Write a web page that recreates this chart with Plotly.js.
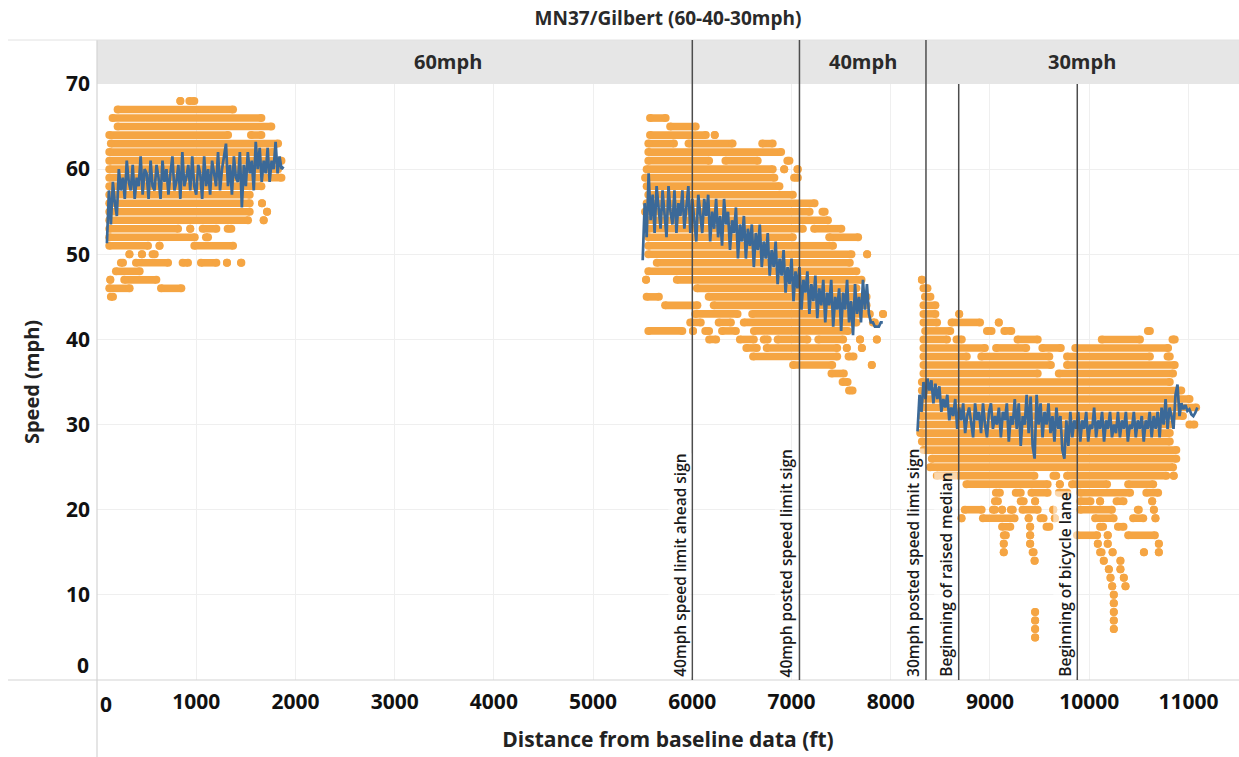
<!DOCTYPE html>
<html>
<head>
<meta charset="utf-8">
<script src="https://cdn.plot.ly/plotly-3.0.1.min.js"></script>
<style>html,body{margin:0;padding:0;background:#fff;}#chart{width:1239px;height:757px;}</style>
</head>
<body>
<div id="chart"></div>
<script>
// ---------------- DATA ----------------
const chartTitle = 'MN37/Gilbert (60-40-30mph)';
const xTitle = 'Distance from baseline data (ft)';
const yTitle = 'Speed (mph)';
const xTickVals = [0, 1000, 2000, 3000, 4000, 5000, 6000, 7000, 8000, 9000, 10000, 11000];
const yTickVals = [0, 10, 20, 30, 40, 50, 60, 70];

const zoneNames = ['60mph', '40mph', '30mph'];
const zoneStart = [0, 7080, 8355];
const zoneEnd = [7080, 8355, 11510];

const refLineDist = [6000, 7080, 8355, 8685, 9880];
const refLineLabels = ['40mph speed limit ahead sign', '40mph posted speed limit sign',
  '30mph posted speed limit sign', 'Beginning of raised median', 'Beginning of bicycle lane'];
const refLineInHeader = [true, true, true, false, false];

// Individual speed observations: for each speed row, [from, to] distance runs of dots
const rowSpeed1 = [68,67,66,65,64,63,62,61,60,59,58,57,56,55,54,53,52,51,50,49,48,47,46,45];
const rowSpans1 = [
  [840,840, 931,981], [208,1371], [157,1657], [208,1757], [124,1321, 1552,1657],
  [140,1825], [124,1774], [124,1859], [124,1825], [124,1859], [124,1657], [124,1539],
  [124,1539, 1663,1663], [124,1539, 1714,1714], [124,1522, 1680,1680],
  [124,817, 940,940, 1065,1203, 1317,1354], [124,985, 1098,1119],
  [124,514, 630,630, 981,1371], [327,327, 453,453, 560,582],
  [241,262, 393,716, 863,917, 1048,1203, 1310,1310, 1451,1455],
  [191,430], [134,134, 275,598], [124,329, 645,850], [140,161]
];

const rowSpeed2 = [66,65,64,63,62,61,60,59,58,57,56,55,54,53,52,51,50,49,48,47,46,45,44,43,42,41,40,39,38,37,36,35,34];
const rowSpans2 = [
  [5574,5731], [5777,6034], [5574,6136, 6226,6226], [5557,5815, 5962,6406, 6705,6810],
  [5557,6895], [5557,6169, 6334,6659, 6958,6979], [5540,6810, 6926,6926, 7059,7064],
  [5524,6827, 7026,7064], [5540,6878], [5557,7013], [5540,7232], [5524,7182, 7312,7334],
  [5557,7367], [5557,7114, 7228,7502], [5557,7013, 7380,7671], [5557,7418],
  [5557,7604, 7762,7762], [5642,7587], [5557,7654], [5534,5534, 5844,7705], [6047,7654],
  [5540,5663, 6165,7756], [5726,6051, 6216,7756], [6030,6456, 6604,7789, 7922,7922],
  [5979,6085, 6266,6389, 6519,7654, 7820,7840],
  [5557,5899, 6007,6007, 6131,6169, 6300,6439, 6621,7570],
  [6170,6240, 6480,6620, 6720,6760, 6860,7160, 7270,7520, 7690,7690, 7860,7860],
  [6545,6650, 6750,7460, 7557,7557, 7709,7709], [6613,7460, 7575,7625],
  [7016,7410, 7809,7809], [7403,7527], [7515,7565], [7580,7615]
];

const rowSpeed3 = [47,46,45,44,43,42,41,40,39,38,37,36,35,34,33,32,31,30,29,28,27,26,25,24,23,22,21,20,19,18,17,16,15,14,13,12,11,10,9,8,7,6,5];
const rowSpans3 = [
  [8314,8314], [8330,8370], [8345,8400], [8330,8450], [8330,8450, 8690,8690],
  [8330,8467, 8613,8900, 9089,9089], [8347,8600, 8970,9016, 9145,9215, 10592,10612],
  [8330,8567, 8663,8716, 9278,9481, 10127,10512, 10840,10862],
  [8330,8949, 9062,9365, 9528,9714, 9860,10795],
  [8330,8766, 8913,9598, 9777,10612, 10790,10812],
  [8330,9614, 9777,10862], [8330,9481, 9694,10845], [8314,10812], [8314,10928],
  [8314,11011], [8314,11078], [8314,10945], [8314,10812, 11010,11060], [8297,10812],
  [8314,10812], [8330,10878], [8414,10878], [8397,10845],
  [8464,9448, 9640,9668, 9777,10778, 10852,10852],
  [8763,9581, 9704,9704, 9827,10180, 10393,10645],
  [9060,9100, 9260,9310, 9418,9581, 9694,9780, 9910,10412, 10576,10695],
  [9050,9080, 9310,9340, 9455,9455, 9910,10013, 10110,10110, 10276,10346, 10635,10635],
  [8746,8916, 9030,9050, 9122,9122, 9210,9230, 9328,9481, 9638,9638, 9910,10229, 10490,10500, 10652,10652],
  [8713,8713, 8929,9248, 9390,9390, 9510,9540, 9654,9654, 10060,10246, 10443,10545, 10668,10668],
  [9122,9205, 9405,9405, 9570,9600, 10110,10140, 10290,10346],
  [9140,9160, 9405,9405, 9877,10080, 10187,10187, 10393,10662],
  [9139,9139, 9405,9405, 10087,10087, 10187,10187, 10702,10702],
  [9139,9139, 9430,9440, 10110,10125, 10236,10236, 10552,10552, 10702,10702],
  [9450,9450, 10147,10147, 10315,10315], [10198,10198, 10315,10315],
  [10215,10215, 10349,10349], [10232,10232, 10366,10366], [10248,10248], [10248,10248],
  [9455,9455, 10248,10248], [9455,9455, 10248,10248], [9455,9455, 10248,10248], [9455,9455]
];

// Average speed by distance bin (20 ft bins)
const meanBinFt = 20;
const meanStart1 = 100;
const meanSpeed1 = [
  51.3,57.5,53.5,58.5,56,54.5,60,57.5,59,56.5,
  61,58.5,57.5,60.5,56.5,59,58,61.5,57,60,
  59.5,56.5,61,58,57.5,60.5,59,56.5,61,58.5,
  60,57,59.5,61.5,57.5,58.5,60.5,56.5,62,58,
  59,60.5,57.5,61.5,58,57,60.5,59.5,56.5,61.5,
  58,60,57,61,59.5,58,62,57.5,60,61.5,
  63,58,60.5,57,61.5,59,58.5,62,55.5,60.5,
  58,62,59.5,61,57.5,63.2,60,62.5,58.5,61,
  59.5,62.5,58.5,61,60,63.2,59.5,61.5,60,60.3
];
const meanStart2 = 5500;
const meanSpeed2 = [
  49.3,56,52,59.5,54,57,52.5,58,55.5,53,
  57.5,54.5,52,58,55,53.5,57.5,52.5,56,54.5,
  57.5,53,55.5,58,52.5,56.5,54,51.5,57,55,
  52.5,56.5,54.5,57,51.5,55,53,56.5,52,54.5,
  51,56.5,53.5,55,50.5,54,52.5,55.5,49.5,53.5,
  51.5,54.5,49.5,53,51,53.5,48.5,52.5,50.5,53.5,
  48.5,51.5,49.5,52.5,47.5,50.5,48.5,51.5,46.5,49.5,
  47.5,50.5,45.5,48.5,46.5,49.5,44.5,48,46,48.5,
  43.5,47,45.5,48,43,46.5,44.5,47.5,42.5,46,
  44,47,42,45.5,44,47,41.5,45,43.5,46,
  41,45.5,43.5,47,42,44.5,40.5,46.5,43,45,
  42,47,43.5,46.5,43,42,42,41.5,41.5,41.5,
  42,42
];
const meanStart3 = 8270;
const meanSpeed3 = [
  29.2,33.5,31.5,35,33,35.4,34,35.2,32.5,34.8,
  33,34.5,31.5,33,32,33.5,30.5,32,31,33,
  29.5,32,30.5,32.5,29,31,32,30,28.5,32.5,
  30.5,31.5,29,32.5,30,28.5,31.5,32.5,29.5,31,
  30,32,28.5,31.5,30.5,32.5,28,31,30,33,
  29.5,32.5,27.5,31,30,33.5,29,33.3,27.5,26,
  33.5,30,32.5,28.5,31.5,30,32.5,29,31,28,
  32,29.5,31,27,26,30.5,27.5,31.5,28.5,30.5,
  29.5,31.5,28,30.5,29.5,31.5,28,30,29.5,32,
  28.5,30.5,29.5,31.5,28,30.5,29.5,31.5,28.5,30,
  29,31.5,28.5,30.5,29.5,31.5,28,30,29.5,31.5,
  28.5,30.5,29.5,31,28,30.5,29.5,31.5,28.5,31,
  29.5,31.5,28.5,32,30,33,29.5,32,31,29.5,
  33.5,34.7,31,32.5,31.8,32.3,31.6,31.8,31.2,31,
  31.4,32
];

// ---------------- BUILD ----------------
const FONT = '"Open Sans", "Noto Sans", "DejaVu Sans", sans-serif';
const ORANGE = '#f5a543';
const BLUE = '#3b6998';

const dotX = [], dotY = [];
function addRows(speeds, spans) {
  speeds.forEach((s, i) => {
    const sp = spans[i];
    for (let k = 0; k < sp.length; k += 2) {
      dotX.push(sp[k], sp[k + 1], null);
      dotY.push(s, s, null);
    }
  });
}
addRows(rowSpeed1, rowSpans1);
addRows(rowSpeed2, rowSpans2);
addRows(rowSpeed3, rowSpans3);

const meanX = [], meanY = [];
function addMean(start, vals) {
  vals.forEach((v, i) => { meanX.push(start + i * meanBinFt); meanY.push(v); });
  meanX.push(null); meanY.push(null);
}
addMean(meanStart1, meanSpeed1);
addMean(meanStart2, meanSpeed2);
addMean(meanStart3, meanSpeed3);

const traces = [
  {
    type: 'scatter', mode: 'lines+markers', x: dotX, y: dotY,
    line: { color: ORANGE, width: 7.6 },
    marker: { color: ORANGE, size: 8, line: { width: 0 } },
    hoverinfo: 'skip', connectgaps: false
  },
  {
    type: 'scatter', mode: 'lines', x: meanX, y: meanY,
    line: { color: BLUE, width: 2.7 },
    hoverinfo: 'skip', connectgaps: false
  }
];

const HEADER_TOP = 1 + 44 / 596;
const shapes = [];
zoneNames.forEach((z, i) => {
  shapes.push({ type: 'rect', xref: 'x', yref: 'paper', x0: zoneStart[i], x1: zoneEnd[i],
    y0: 1, y1: HEADER_TOP, fillcolor: '#e6e6e6', line: { width: 0 }, layer: 'below' });
});
shapes.push({ type: 'line', xref: 'paper', yref: 'paper', x0: 0, x1: 0, y0: -77 / 596, y1: HEADER_TOP,
  line: { color: '#d4d4d4', width: 1.2 } });
shapes.push({ type: 'line', xref: 'paper', yref: 'paper', x0: -89 / 1142, x1: 1, y0: 0, y1: 0,
  line: { color: '#d4d4d4', width: 1.2 } });
shapes.push({ type: 'line', xref: 'paper', yref: 'paper', x0: -89 / 1142, x1: 1, y0: HEADER_TOP, y1: HEADER_TOP,
  line: { color: '#e2e2e2', width: 1 } });
refLineDist.forEach((d, i) => {
  shapes.push({ type: 'line', xref: 'x', yref: 'paper', x0: d, x1: d, y0: 0,
    y1: refLineInHeader[i] ? HEADER_TOP : 1, line: { color: '#4d4d4d', width: 1.5 }, layer: 'above' });
});

const annotations = [];
zoneNames.forEach((z, i) => {
  annotations.push({ xref: 'x', yref: 'paper', x: (zoneStart[i] + zoneEnd[i]) / 2, y: (1 + HEADER_TOP) / 2,
    text: z, showarrow: false, xanchor: 'center', yanchor: 'middle',
    font: { family: FONT, size: 20, weight: 700, color: '#2a2a2a' } });
});
refLineDist.forEach((d, i) => {
  annotations.push({ xref: 'x', yref: 'paper', x: d, y: 0, xanchor: 'right', yanchor: 'bottom',
    xshift: -1, yshift: 2, textangle: -90, text: refLineLabels[i], showarrow: false,
    bgcolor: 'rgba(255,255,255,0.55)', borderpad: 0,
    font: { family: FONT, size: 15.5, weight: 600, color: '#1a1a1a' } });
});
annotations.push({ xref: 'x', yref: 'paper', x: 0, y: 0, xanchor: 'left', yanchor: 'middle',
  xshift: 1, yshift: -24, text: '0', showarrow: false,
  font: { family: FONT, size: 21, weight: 700, color: '#111' } });
annotations.push({ xref: 'paper', yref: 'y', x: 0, y: 0, xanchor: 'right', yanchor: 'middle',
  xshift: -6, yshift: 15, text: '0', showarrow: false,
  font: { family: FONT, size: 21, weight: 700, color: '#111' } });

const layout = {
  width: 1239, height: 757,
  margin: { l: 97, r: 0, t: 84, b: 77 },
  paper_bgcolor: '#ffffff', plot_bgcolor: '#ffffff',
  showlegend: false, hovermode: false,
  font: { family: FONT, color: '#222' },
  title: { text: chartTitle, x: 0.5, xref: 'paper', xanchor: 'center', y: 1 - 18 / 757, yref: 'container',
    yanchor: 'middle', font: { family: FONT, size: 19, weight: 700, color: '#2a2a2a' } },
  xaxis: {
    range: [0, 11510], tickvals: xTickVals, ticktext: xTickVals.map(v => v === 0 ? '' : String(v)),
    showgrid: true, gridcolor: '#efefef', gridwidth: 1, zeroline: false, showline: false, ticks: '',
    tickfont: { family: FONT, size: 21, weight: 700, color: '#111' }, ticklabelstandoff: 7,
    title: { text: xTitle, standoff: 18, font: { family: FONT, size: 21, weight: 700, color: '#222' } },
    fixedrange: true
  },
  yaxis: {
    range: [0, 70], tickvals: yTickVals, ticktext: yTickVals.map(v => v === 0 ? '' : String(v)),
    showgrid: true, gridcolor: '#efefef', gridwidth: 1, zeroline: false, showline: false, ticks: '',
    tickfont: { family: FONT, size: 21, weight: 700, color: '#111' }, ticklabelstandoff: 6,
    title: { text: yTitle, standoff: 20, font: { family: FONT, size: 20, weight: 700, color: '#222' } },
    fixedrange: true
  },
  shapes: shapes,
  annotations: annotations
};

Plotly.newPlot('chart', traces, layout, { displayModeBar: false, staticPlot: true });
</script>
</body>
</html>
